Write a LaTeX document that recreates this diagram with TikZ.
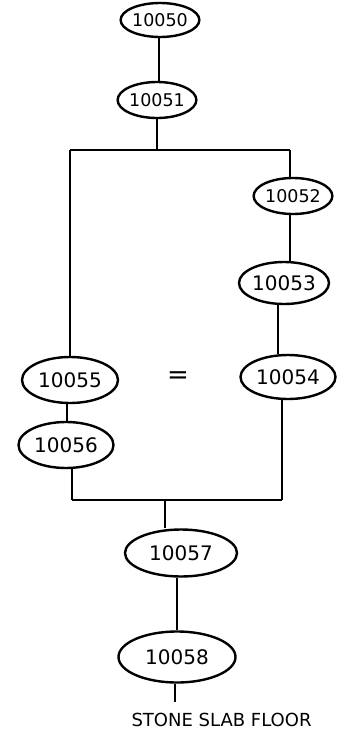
\documentclass[tikz,border=0pt]{standalone}
\usepackage{fontspec}
\setmainfont{DejaVu Sans}
\usetikzlibrary{shapes.geometric}
\begin{document}
\begin{tikzpicture}[x=1pt,y=-1pt,
  ctx/.style={ellipse,draw,line width=2.4pt,inner sep=0pt,font=\fontsize{20}{22}\selectfont},
  smallctx/.style={ctx,font=\fontsize{17.5}{19}\selectfont},
  conn/.style={line width=2pt}]
\useasboundingbox (0,0) rectangle (360,747);
\node[smallctx,minimum width=74,minimum height=34] (n50) at (160,20) {10050};
\node[smallctx,minimum width=78,minimum height=36] (n51) at (157,100) {10051};
\node[smallctx,minimum width=74,minimum height=36] (n52) at (293,196) {10052};
\node[ctx,minimum width=82,minimum height=42] (n53) at (284,283) {10053};
\node[ctx,minimum width=95,minimum height=44] (n54) at (288,377) {10054};
\node[ctx,minimum width=96,minimum height=46] (n55) at (70,380) {10055};
\node[ctx,minimum width=95,minimum height=46] (n56) at (66,445) {10056};
\node[ctx,minimum width=112,minimum height=47] (n57) at (181,553) {10057};
\node[ctx,minimum width=117,minimum height=51] (n58) at (177,657) {10058};
\node[font=\fontsize{26}{28}\selectfont] (eq) at (178,378) {=};
\node[font=\fontsize{18}{20}\selectfont,anchor=west] (lbl) at (128,720) {STONE SLAB FLOOR};
\coordinate (tl) at (70,150);
\coordinate (tr) at (290,150);
\coordinate (bl) at (72,500);
\coordinate (br) at (282,500);
\coordinate (bm) at (165,500);
\coordinate (end) at (175,702);
\draw[conn] (n50.south -| 159,0) -- (159,0 |- n51.north);
\draw[conn] (n51.south) -- (n51.south |- tl);
\draw[conn] (tl) -- (tr);
\draw[conn] (tl) -- (n55.north -| tl);
\draw[conn] (tr) -- (n52.north -| tr);
\draw[conn] (n52.south -| tr) -- (tr |- n53.north);
\draw[conn] (n53.south -| 278,0) -- (278,0 |- n54.north);
\draw[conn] (n55.south -| 67,0) -- (67,0 |- n56.north);
\draw[conn] (n56.south -| bl) -- (bl);
\draw[conn] (bl) -- (br);
\draw[conn] (br) -- (br |- n54.south);
\draw[conn] (bm) -- (bm |- n57.north);
\draw[conn] (n57.south -| 177,0) -- (177,0 |- n58.north);
\draw[conn] (n58.south -| end) -- (end);
\end{tikzpicture}
\end{document}
